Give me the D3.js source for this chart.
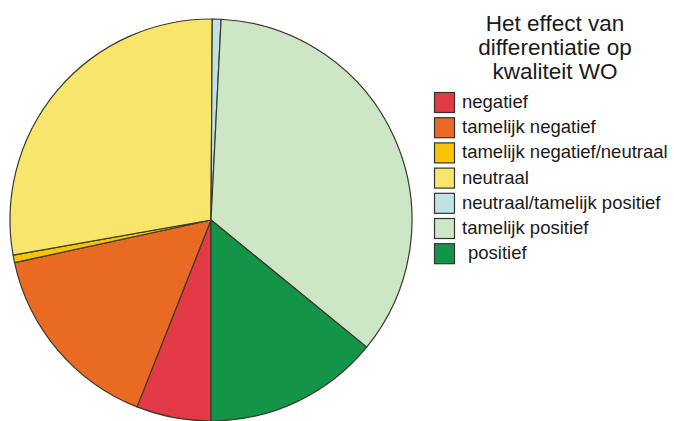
<!DOCTYPE html>
<html>
<head>
<meta charset="utf-8">
<script src="https://cdn.jsdelivr.net/npm/d3@7"></script>
<style>
  body { margin: 0; background: #fff; }
  text { font-family: "Liberation Sans", Arial, sans-serif; fill: #1a1a1a; }
</style>
</head>
<body>
<div class="chart"></div>
<script>
// Pie chart: effect of differentiation on quality
var svgWidth = 674;
var svgHeight = 421;

var categories = ["negatief", "tamelijk negatief", "tamelijk negatief/neutraal", "neutraal",
  "neutraal/tamelijk positief", "tamelijk positief", "positief"];
var values = [6.0, 15.6, 0.6, 27.9, 0.7, 35.1, 14.1];
var colors = ["#e43a45", "#e96a22", "#fcc400", "#f8e66c", "#bfe2e6", "#cde6c5", "#149449"];
var titleLines = ["Het effect van", "differentiatie op", "kwaliteit WO"];

var data = categories.map(function (c, i) {
  return { label: c, value: values[i], color: colors[i] };
});

var svg = d3.select(".chart")
  .append("svg")
  .attr("width", svgWidth)
  .attr("height", svgHeight);

var cx = 211, cy = 220, radius = 201;

var pie = d3.pie()
  .sort(null)
  .value(d => d.value)
  .startAngle(Math.PI)
  .endAngle(3 * Math.PI);

var arc = d3.arc()
  .innerRadius(0)
  .outerRadius(radius);

var pieGroup = svg.append("g")
  .attr("transform", `translate(${cx}, ${cy})`);

pieGroup.selectAll("path")
  .data(pie(data))
  .enter()
  .append("path")
  .attr("d", arc)
  .attr("fill", d => d.data.color)
  .attr("stroke", "#3a3a2a")
  .attr("stroke-width", 1.2)
  .attr("stroke-linejoin", "round");

// title
svg.append("g")
  .selectAll("text")
  .data(titleLines)
  .enter()
  .append("text")
  .attr("x", 555)
  .attr("y", (d, i) => 31 + i * 24)
  .attr("text-anchor", "middle")
  .attr("font-size", "22.5px")
  .text(d => d);

// legend
var legend = svg.append("g")
  .attr("transform", "translate(434, 92)");

var rows = legend.selectAll("g")
  .data(data)
  .enter()
  .append("g")
  .attr("transform", (d, i) => `translate(0, ${i * 25.2})`);

rows.append("rect")
  .attr("x", 0.5)
  .attr("y", 0.5)
  .attr("width", 20)
  .attr("height", 20)
  .attr("fill", d => d.color)
  .attr("stroke", "#333")
  .attr("stroke-width", 1.2);

rows.append("text")
  .attr("x", (d, i) => i === 6 ? 34 : 28)
  .attr("y", 16)
  .attr("font-size", "18.5px")
  .text(d => d.label);
</script>
</body>
</html>
